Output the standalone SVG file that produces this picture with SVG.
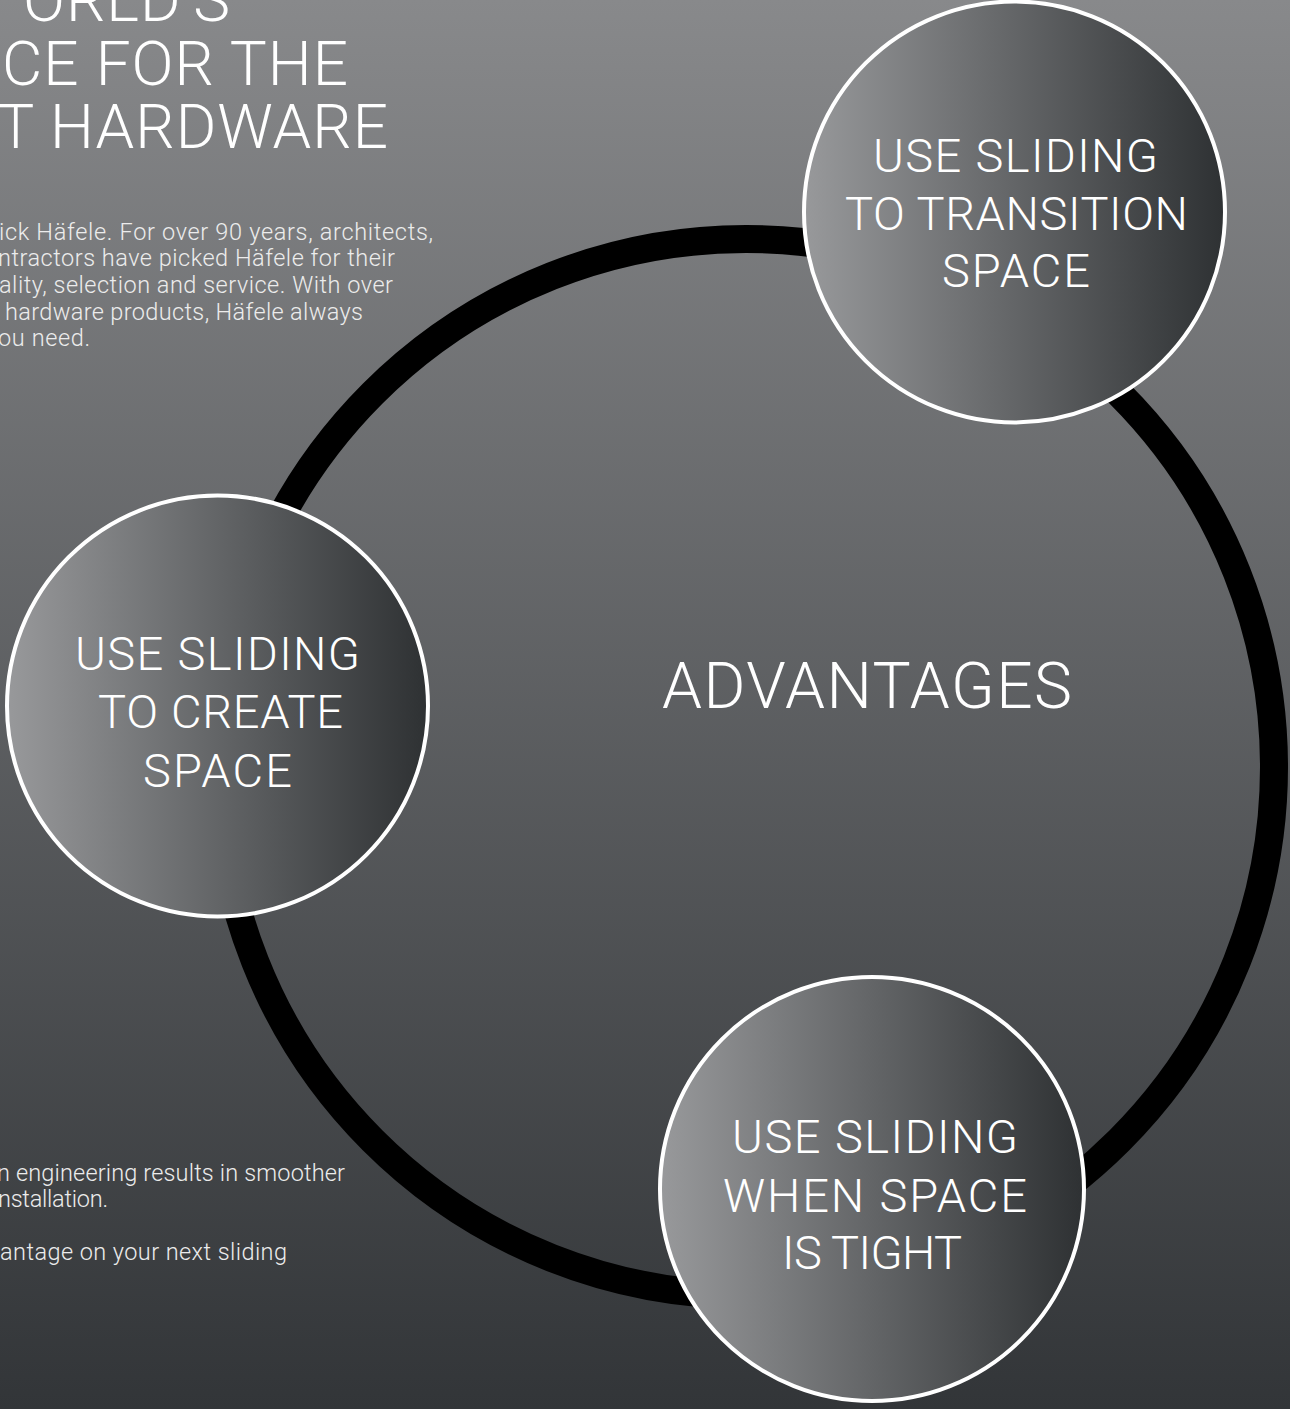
<svg xmlns="http://www.w3.org/2000/svg" width="1290" height="1409" viewBox="0 0 1290 1409">
  <defs>
    <linearGradient id="bg" x1="0" y1="0" x2="0" y2="1">
      <stop offset="0" stop-color="#88898b"/>
      <stop offset="1" stop-color="#323538"/>
    </linearGradient>
    <linearGradient id="disc" x1="0" y1="0" x2="1" y2="0">
      <stop offset="0" stop-color="#98999b"/>
      <stop offset="1" stop-color="#2e3133"/>
    </linearGradient>
  </defs>
  <style>
    text { font-family: Roboto, "Liberation Sans", Arial, sans-serif; font-weight: 300; }
    .disc { fill: url(#disc); stroke: #ffffff; stroke-width: 4; }
    .lbl { fill: #ffffff; font-size: 47px; text-anchor: middle; }
    .title { fill: #ffffff; font-size: 62px; text-anchor: end; letter-spacing: 1px; }
    .body { fill: #ececec; font-size: 23.5px; }
    .center { fill: #ffffff; font-size: 64px; text-anchor: middle; }
  </style>
  <rect x="0" y="0" width="1290" height="1409" fill="url(#bg)"/>

  <g id="title">
    <text class="title" x="231" y="21">ORLD'S</text>
    <text class="title" x="349" y="85">CE FOR THE</text>
    <text class="title" x="389" y="148">T HARDWARE</text>
  </g>

  <g id="intro-text">
    <text class="body" x="-1" y="240" textLength="434" lengthAdjust="spacing">ick Häfele. For over 90 years, architects,</text>
    <text class="body" x="-2" y="266" textLength="397" lengthAdjust="spacing">ntractors have picked Häfele for their</text>
    <text class="body" x="-1" y="293" textLength="394" lengthAdjust="spacing">ality, selection and service. With over</text>
    <text class="body" x="5" y="320" textLength="358" lengthAdjust="spacing">hardware products, Häfele always</text>
    <text class="body" x="-2" y="346" textLength="92" lengthAdjust="spacing">ou need.</text>
  </g>

  <g id="footer-text">
    <text class="body" x="-3" y="1181" textLength="348" lengthAdjust="spacing">n engineering results in smoother</text>
    <text class="body" x="-2" y="1207" textLength="110" lengthAdjust="spacing">nstallation.</text>
    <text class="body" x="0" y="1260" textLength="287" lengthAdjust="spacing">antage on your next sliding</text>
  </g>

  <g id="connectors">
    <circle cx="746" cy="767" r="528" fill="none" stroke="#000000" stroke-width="28"/>
  </g>

  <g id="advantages">
    <text class="center" x="867" y="708" textLength="410" lengthAdjust="spacing">ADVANTAGES</text>
  </g>

  <g id="node-transition">
    <circle class="disc" cx="1014.5" cy="212" r="210.5"/>
    <text class="lbl" x="1015.5" y="172" textLength="285" lengthAdjust="spacing">USE SLIDING</text>
    <text class="lbl" x="1016.5" y="230" textLength="343" lengthAdjust="spacing">TO TRANSITION</text>
    <text class="lbl" x="1016" y="287" textLength="148" lengthAdjust="spacing">SPACE</text>
  </g>

  <g id="node-create">
    <circle class="disc" cx="217.5" cy="706" r="210.5"/>
    <text class="lbl" x="217.5" y="670" textLength="285" lengthAdjust="spacing">USE SLIDING</text>
    <text class="lbl" x="220.5" y="728" textLength="245" lengthAdjust="spacing">TO CREATE</text>
    <text class="lbl" x="217.5" y="787" textLength="149" lengthAdjust="spacing">SPACE</text>
  </g>

  <g id="node-tight">
    <circle class="disc" cx="872" cy="1189" r="212"/>
    <text class="lbl" x="875" y="1153" textLength="286" lengthAdjust="spacing">USE SLIDING</text>
    <text class="lbl" x="875" y="1212" textLength="304" lengthAdjust="spacing">WHEN SPACE</text>
    <text class="lbl" x="872" y="1269" textLength="180" lengthAdjust="spacing">IS TIGHT</text>
  </g>
</svg>
